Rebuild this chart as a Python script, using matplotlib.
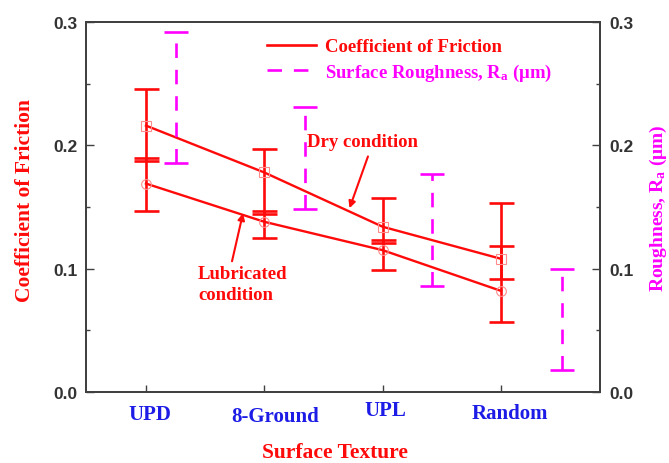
import matplotlib
matplotlib.use("Agg")
import matplotlib.pyplot as plt
import matplotlib.transforms as mtransforms
from matplotlib.lines import Line2D
from matplotlib.ticker import MultipleLocator, FormatStrFormatter
import numpy as np

# ---------------- data ----------------
categories = ["UPD", "8-Ground", "UPL", "Random"]
x_pos = [1, 2, 3, 4]

dry_cof = [0.216, 0.178, 0.134, 0.108]
dry_low = [0.187, 0.144, 0.121, 0.092]
dry_high = [0.246, 0.197, 0.157, 0.153]

lub_cof = [0.169, 0.138, 0.115, 0.082]
lub_low = [0.147, 0.125, 0.099, 0.057]
lub_high = [0.190, 0.147, 0.123, 0.118]

rough_x = [1.25, 2.34, 3.42, 4.52]
rough_low = [0.186, 0.148, 0.086, 0.018]
rough_high = [0.292, 0.231, 0.177, 0.100]

y_ticks = [0.0, 0.1, 0.2, 0.3]

# ---------------- style ----------------
RED = "#ff0a0a"
MAG = "#ff00ff"
BLUE = "#1c1ce6"
SERIF = "Liberation Serif"
SANS = "Liberation Sans"
plt.rcParams["mathtext.fontset"] = "custom"
plt.rcParams["mathtext.rm"] = "Liberation Serif:bold"
plt.rcParams["mathtext.bf"] = "Liberation Serif:bold"
plt.rcParams["mathtext.it"] = "Liberation Serif:bold:italic"
DASH = (0, (5.5, 4.5))

fig = plt.figure(figsize=(6.69, 4.64), dpi=100)
ax = fig.add_axes([86 / 669, 71 / 464, 514 / 669, 370 / 464])
ax2 = ax.twinx()

ax.set_xlim(0.493, 4.837)
ax.set_ylim(0, 0.3)
ax2.set_ylim(0, 0.3)

def err(center, low, high):
    c = np.array(center)
    return [c - np.array(low), np.array(high) - c]

# error bars
for cen, lo, hi in [(dry_cof, dry_low, dry_high), (lub_cof, lub_low, lub_high)]:
    ax.errorbar(x_pos, cen, yerr=err(cen, lo, hi), fmt="none", ecolor=RED,
                elinewidth=1.9, capsize=9, capthick=1.9, zorder=3)

# lines
ax.plot(x_pos, dry_cof, color=RED, lw=1.7, zorder=4)
ax.plot(x_pos, lub_cof, color=RED, lw=1.7, zorder=4)
ax.plot(x_pos, dry_cof, ls="none", marker="s", ms=7, mfc="none", mec="#ff8c8c",
        mew=0.8, zorder=5)
ax.plot(x_pos, lub_cof, ls="none", marker="o", ms=7, mfc="none", mec="#ff8c8c",
        mew=0.8, zorder=5)

# roughness
r_mid = (np.array(rough_low) + np.array(rough_high)) / 2
r_half = (np.array(rough_high) - np.array(rough_low)) / 2
eb = ax2.errorbar(rough_x, r_mid, yerr=r_half, fmt="none", ecolor=MAG,
                  elinewidth=1.9, capsize=8.5, capthick=1.9)
eb[2][0].set_linestyle(DASH)

# ticks & spines
for a in (ax, ax2):
    for s in a.spines.values():
        s.set_color("#404040")
        s.set_linewidth(1.3)

ax.set_xticks(x_pos)
ax.set_xticklabels(categories, fontfamily=SERIF, fontweight="bold",
                   fontsize=15, color=BLUE)
ax.tick_params(axis="x", direction="in", length=5, width=1, color="#404040",
               pad=8, top=False)
# small horizontal/vertical shifts of the category labels as in the reference
label_shift = [(4, -1), (11, -3), (3, 3), (9, 0)]
for lab, (dx, dy) in zip(ax.get_xticklabels(), label_shift):
    lab.set_transform(lab.get_transform() +
                      mtransforms.ScaledTranslation(dx / 100, dy / 100, fig.dpi_scale_trans))

ax.set_yticks(y_ticks)
ax.yaxis.set_minor_locator(MultipleLocator(0.05))
ax.tick_params(axis="y", which="major", direction="in", length=6, width=1,
               color="#404040", pad=6, right=False)
ax.tick_params(axis="y", which="minor", direction="in", length=3, width=1,
               color="#404040", right=False)
ax2.set_yticks(y_ticks)
ax2.yaxis.set_minor_locator(MultipleLocator(0.05))
ax2.tick_params(axis="y", which="major", direction="in", length=6, width=1,
                color="#404040", pad=7)
ax2.tick_params(axis="y", which="minor", direction="in", length=3, width=1,
                color="#404040")
ax.yaxis.set_major_formatter(FormatStrFormatter("%.1f"))
ax2.yaxis.set_major_formatter(FormatStrFormatter("%.1f"))
for a in (ax, ax2):
    for lab in a.get_yticklabels():
        lab.set_fontfamily(SANS)
        lab.set_fontweight("bold")
        lab.set_fontsize(12.5)
        lab.set_color("#333333")

ax.set_xlabel("Surface Texture", fontfamily=SERIF, fontweight="bold",
              fontsize=15.5, color=RED, labelpad=14)
ax.xaxis.set_label_coords(0.485, -0.135)
ax.set_ylabel("Coefficient of Friction", fontfamily=SERIF, fontweight="bold",
              fontsize=15.5, color=RED)
ax.yaxis.set_label_coords(-0.099, 0.52)
ax2.set_ylabel(r"Roughness, R$_\mathrm{a}$ ($\mathrm{\mu}$m)", fontfamily=SERIF,
               fontweight="bold", fontsize=14, color=MAG, labelpad=10)

# annotations
ax.text(2.36, 0.203, "Dry condition", fontfamily=SERIF, fontweight="bold",
        fontsize=13.5, color=RED, ha="left", va="center")
ax.annotate("", xy=(2.72, 0.149), xytext=(2.876, 0.191),
            arrowprops=dict(arrowstyle="-|>", color=RED, lw=1.5,
                            mutation_scale=10, shrinkA=0, shrinkB=0))
ax.text(1.44, 0.0876, "Lubricated\ncondition", fontfamily=SERIF,
        fontweight="bold", fontsize=13.5, color=RED, ha="left", va="center",
        linespacing=1.25)
ax.annotate("", xy=(1.82, 0.145), xytext=(1.727, 0.106),
            arrowprops=dict(arrowstyle="-|>", color=RED, lw=1.5,
                            mutation_scale=10, shrinkA=0, shrinkB=0))

# legend
handles = [Line2D([], [], color=RED, lw=1.9),
           Line2D([], [], color=MAG, lw=1.9, ls=DASH)]
labels = ["Coefficient of Friction", r"Surface Roughness, R$_\mathrm{a}$ ($\mathrm{\mu}$m)"]
fig.legend(handles, labels, loc="upper left", bbox_to_anchor=(267 / 669, 1 - 39 / 464),
           frameon=False, borderpad=0, borderaxespad=0, handlelength=2.6,
           handletextpad=0.5, labelspacing=0.35,
           prop=dict(family=SERIF, weight="bold", size=13.5),
           labelcolor=[RED, MAG])

fig.savefig("out.png", dpi=100)
